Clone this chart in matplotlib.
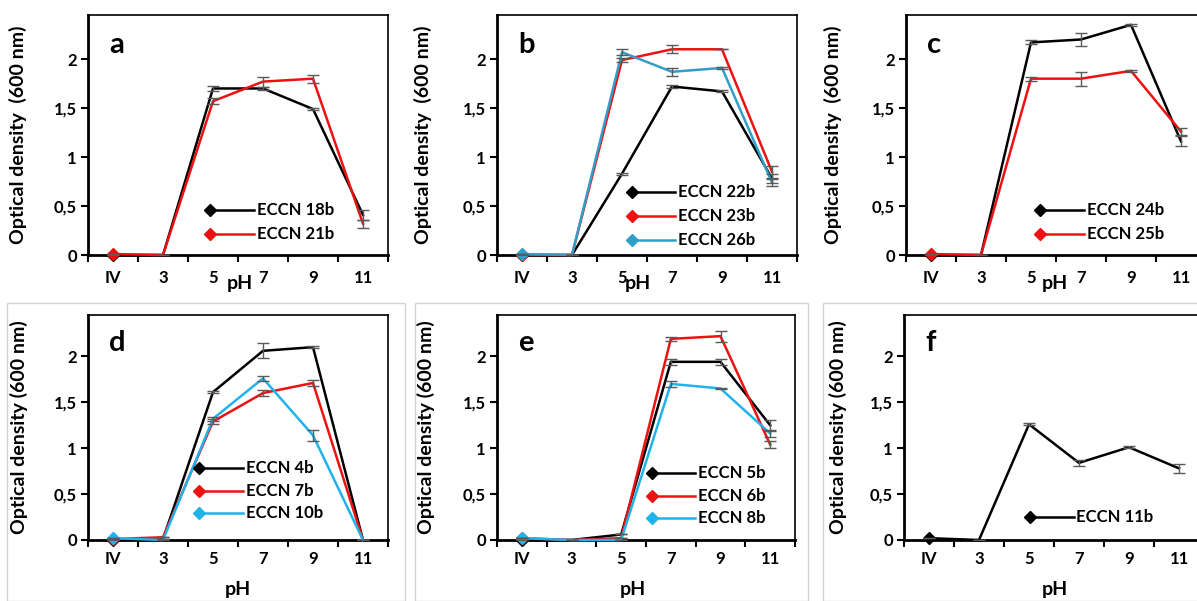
import numpy as np
import matplotlib
matplotlib.use('Agg')
import matplotlib.pyplot as plt
from matplotlib.patches import Rectangle

plt.rcParams['font.family'] = ['Lato', 'DejaVu Sans']
plt.rcParams['font.weight'] = 'bold'

categories = ['IV', '3', '5', '7', '9', '11']
y_ticks = [0, 0.5, 1, 1.5, 2]
y_tick_labels = ['0', '0,5', '1', '1,5', '2']

# panel a
a_18b = [0, 0, 1.70, 1.70, 1.49, 0.41]
a_18b_err = [0, 0, 0.03, 0.02, 0.01, 0.05]
a_21b = [0.01, 0, 1.57, 1.77, 1.80, 0.32]
a_21b_err = [0, 0, 0.03, 0.05, 0.04, 0.04]

# panel b
b_22b = [0, 0, 0.83, 1.72, 1.67, 0.78]
b_22b_err = [0, 0, 0.01, 0.02, 0.01, 0.05]
b_23b = [0, 0, 1.99, 2.10, 2.10, 0.85]
b_23b_err = [0, 0, 0.02, 0.04, 0.0, 0.06]
b_26b = [0.01, 0, 2.07, 1.87, 1.91, 0.74]
b_26b_err = [0, 0, 0.03, 0.04, 0.01, 0.04]

# panel c
c_24b = [0, 0, 2.17, 2.20, 2.35, 1.16]
c_24b_err = [0, 0, 0.02, 0.07, 0.01, 0.05]
c_25b = [0.01, 0, 1.80, 1.80, 1.88, 1.26]
c_25b_err = [0, 0, 0.02, 0.07, 0.01, 0.04]

# panel d
d_4b = [0, 0.01, 1.61, 2.06, 2.10, 0]
d_4b_err = [0, 0, 0.01, 0.08, 0.01, 0]
d_7b = [0.01, 0.03, 1.29, 1.60, 1.71, 0]
d_7b_err = [0, 0, 0.03, 0.03, 0.03, 0]
d_10b = [0.02, 0, 1.32, 1.76, 1.14, 0]
d_10b_err = [0, 0, 0.02, 0.03, 0.06, 0]

# panel e
e_5b = [0, 0, 0.06, 1.94, 1.94, 1.25]
e_5b_err = [0, 0, 0, 0.03, 0.03, 0.06]
e_6b = [0.02, 0, 0.02, 2.19, 2.22, 1.04]
e_6b_err = [0, 0, 0, 0.02, 0.06, 0.04]
e_8b = [0.02, 0, 0, 1.70, 1.65, 1.16]
e_8b_err = [0, 0, 0, 0.03, 0.01, 0.04]

# panel f
f_11b = [0.02, 0, 1.26, 0.84, 1.01, 0.78]
f_11b_err = [0, 0, 0.01, 0.03, 0.01, 0.05]

BLACK = '#000000'
RED = '#ee1111'
TEAL = '#2f9fca'
CYAN = '#1fb3ea'

W, H = 1197, 601
fig = plt.figure(figsize=(W / 100, H / 100), dpi=100)

# light grey frames around the bottom-row panels
for x0, x1 in [(7, 405), (415, 808), (823, 1210)]:
    fig.patches.append(Rectangle((x0 / W, 0), (x1 - x0) / W, (601 - 303) / H,
                                 transform=fig.transFigure, fill=False,
                                 edgecolor='#d4d4d4', linewidth=1))


def add_axes(left_px, top_px, bottom_px, width_px=300):
    return fig.add_axes([left_px / W, (H - bottom_px) / H, width_px / W,
                         (bottom_px - top_px) / H])


def draw_panel(ax, series, letter, ylabel, ylabel_x, xlab_y, xlab_x, xtick_pad,
               leg_x, leg_y):
    x = np.arange(len(categories))
    for name, vals, errs, color in series:
        ax.plot(x, vals, color=color, linewidth=1.8, marker='D', markersize=6.5,
                markevery=[0], zorder=3, clip_on=False)
        ax.errorbar(x, vals, yerr=errs, fmt='none', ecolor='#5a5a5a',
                    elinewidth=1, capsize=4, capthick=1, zorder=4)

    ax.set_xlim(-0.5, len(categories) - 0.5)
    ax.set_ylim(0, 2.45)
    ax.set_yticks(y_ticks)
    ax.set_yticklabels(y_tick_labels)
    ax.set_xticks(np.arange(-0.5, len(categories), 1))
    ax.set_xticklabels([])
    ax.set_xticks(x, minor=True)
    ax.set_xticklabels(categories, minor=True)
    ax.tick_params(axis='x', which='major', direction='out', length=5, width=1.5)
    ax.tick_params(axis='x', which='minor', length=0, pad=xtick_pad, labelsize=12)
    ax.tick_params(axis='y', direction='out', length=5, width=1.5, pad=3,
                   labelsize=12)
    for side in ['left', 'bottom']:
        ax.spines[side].set_linewidth(2)
    for side in ['top', 'right']:
        ax.spines[side].set_linewidth(1.2)

    ax.set_ylabel(ylabel, fontsize=14, fontweight='bold')
    ax.yaxis.set_label_coords(ylabel_x, 0.5)
    ax.text(xlab_x, xlab_y, 'pH', transform=ax.transAxes, fontsize=14,
            fontweight='bold', ha='center', va='center')
    ax.text(0.07, 0.875, letter, transform=ax.transAxes, fontsize=21,
            fontweight='bold', ha='left', va='center')

    # legend drawn the way the original shows it: diamond at the left end of the line
    for i, (name, vals, errs, color) in enumerate(series):
        yy = leg_y - i * 0.1
        ax.plot([leg_x, leg_x + 0.145], [yy, yy], color=color, linewidth=1.8,
                transform=ax.transAxes, clip_on=False, zorder=5)
        ax.plot([leg_x], [yy], color=color, marker='D', markersize=6.5,
                transform=ax.transAxes, clip_on=False, zorder=5)
        ax.text(leg_x + 0.155, yy, name, transform=ax.transAxes, fontsize=12,
                fontweight='bold', ha='left', va='center')


top_label = 'Optical density  (600 nm)'
bot_label = 'Optical density (600 nm)'

ax_a = add_axes(88, 15, 255)
draw_panel(ax_a, [('ECCN 18b', a_18b, a_18b_err, BLACK),
                  ('ECCN 21b', a_21b, a_21b_err, RED)],
           'a', top_label, -0.203, -0.117, 0.507, 11, 0.407, 0.1875)

ax_b = add_axes(497, 15, 255)
draw_panel(ax_b, [('ECCN 22b', b_22b, b_22b_err, BLACK),
                  ('ECCN 23b', b_23b, b_23b_err, RED),
                  ('ECCN 26b', b_26b, b_26b_err, TEAL)],
           'b', top_label, -0.218, -0.117, 0.47, 11, 0.449, 0.264)

ax_c = add_axes(906, 15, 255)
draw_panel(ax_c, [('ECCN 24b', c_24b, c_24b_err, BLACK),
                  ('ECCN 25b', c_25b, c_25b_err, RED)],
           'c', top_label, -0.214, -0.117, 0.497, 11, 0.447, 0.1875)

ax_d = add_axes(88, 315, 540)
draw_panel(ax_d, [('ECCN 4b', d_4b, d_4b_err, BLACK),
                  ('ECCN 7b', d_7b, d_7b_err, RED),
                  ('ECCN 10b', d_10b, d_10b_err, CYAN)],
           'd', bot_label, -0.2, -0.222, 0.5, 8, 0.37, 0.32)

ax_e = add_axes(497, 315, 540, 298)
draw_panel(ax_e, [('ECCN 5b', e_5b, e_5b_err, BLACK),
                  ('ECCN 6b', e_6b, e_6b_err, RED),
                  ('ECCN 8b', e_8b, e_8b_err, CYAN)],
           'e', bot_label, -0.207, -0.222, 0.455, 8, 0.52, 0.296)

ax_f = add_axes(904, 315, 540)
draw_panel(ax_f, [('ECCN 11b', f_11b, f_11b_err, BLACK)],
           'f', bot_label, -0.19, -0.222, 0.503, 8, 0.42, 0.104)

fig.savefig('out.png', dpi=100)
